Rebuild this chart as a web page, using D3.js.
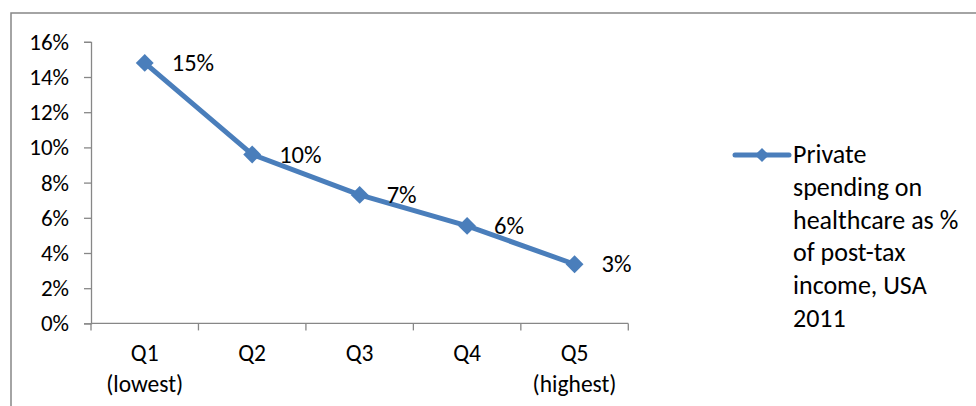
<!DOCTYPE html>
<html>
<head>
<meta charset="utf-8">
<script src="https://cdn.jsdelivr.net/npm/d3@7"></script>
<style>
  html, body { margin: 0; padding: 0; background: #fff; }
  svg { display: block; }
  text { font-family: Calibri, Carlito, "Open Sans", sans-serif; fill: #000; }
</style>
</head>
<body>
<svg id="chart" width="976" height="406"></svg>
<script>
// Income quintiles (two-line category labels)
const categories = ["Q1", "Q2", "Q3", "Q4", "Q5"];
const categorySubLabels = ["(lowest)", "", "", "", "(highest)"];
// Private healthcare spending as share of post-tax income
const values = [0.148, 0.096, 0.073, 0.0554, 0.0336];
const yTicks = [0, 0.02, 0.04, 0.06, 0.08, 0.10, 0.12, 0.14, 0.16];
const legendLines = ["Private", "spending on", "healthcare as %", "of post-tax", "income, USA", "2011"];

const blue = "#4a7ebb";
const axisGrey = "#878787";
const fontStack = 'Calibri, Carlito, "Open Sans", sans-serif';

const svg = d3.select("#chart");

// Chart-area frame (runs off the right and bottom edges)
svg.append("rect")
  .attr("x", 11).attr("y", 13)
  .attr("width", 1000).attr("height", 420)
  .attr("fill", "none")
  .attr("stroke", axisGrey)
  .attr("stroke-width", 1.5);

const x = d3.scaleBand().domain(categories).range([91, 628.3]);
const y = d3.scaleLinear().domain([0, 0.16]).range([323.4, 41.8]);
const pct = d3.format(".0%");

// Y axis
const yAxis = d3.axisLeft(y).tickValues(yTicks).tickFormat(pct).tickSize(7).tickPadding(15);
const gy = svg.append("g").attr("transform", `translate(${x.range()[0]},0)`).call(yAxis);
gy.select(".domain").attr("stroke", axisGrey).attr("stroke-width", 1.3);
gy.selectAll(".tick line").attr("stroke", axisGrey).attr("stroke-width", 1.3);
gy.selectAll(".tick text")
  .attr("font-size", 23)
  .attr("dy", "0.33em")
  .style("font-family", fontStack);

// X axis: ticks on category boundaries
const xAxisY = y(0);
const gx = svg.append("g");
gx.append("line")
  .attr("x1", x.range()[0]).attr("x2", x.range()[1])
  .attr("y1", xAxisY).attr("y2", xAxisY)
  .attr("stroke", axisGrey).attr("stroke-width", 1.3);
const boundaries = categories.map(c => x(c)).concat([x.range()[1]]);
gx.selectAll("line.bt").data(boundaries).join("line")
  .attr("class", "bt")
  .attr("x1", d => d).attr("x2", d => d)
  .attr("y1", xAxisY).attr("y2", xAxisY + 7)
  .attr("stroke", axisGrey).attr("stroke-width", 1.3);

const catText = gx.selectAll("text.cat").data(categories).join("text")
  .attr("class", "cat")
  .attr("text-anchor", "middle")
  .attr("font-size", 23.5)
  .attr("x", d => x(d) + x.bandwidth() / 2)
  .attr("y", 361);
catText.append("tspan").text(d => d);
catText.append("tspan")
  .attr("x", d => x(d) + x.bandwidth() / 2)
  .attr("dy", 31)
  .text((d, i) => categorySubLabels[i]);

// Series line
const pts = categories.map((c, i) => ({ c, v: values[i] }));
const line = d3.line().x(d => x(d.c) + x.bandwidth() / 2).y(d => y(d.v));
svg.append("path")
  .datum(pts)
  .attr("d", line)
  .attr("fill", "none")
  .attr("stroke", blue)
  .attr("stroke-width", 5)
  .attr("stroke-linejoin", "round");

// Diamond markers
const diamond = d3.symbol().type(d3.symbolSquare).size(160);
svg.selectAll("path.mk").data(pts).join("path")
  .attr("class", "mk")
  .attr("d", diamond)
  .attr("fill", blue)
  .attr("transform", d => `translate(${x(d.c) + x.bandwidth() / 2},${y(d.v)}) rotate(45)`);

// Data labels
svg.selectAll("text.lbl").data(pts).join("text")
  .attr("class", "lbl")
  .attr("font-size", 24.5)
  .attr("x", d => x(d.c) + x.bandwidth() / 2 + 27)
  .attr("y", d => y(d.v))
  .attr("dy", "0.33em")
  .text(d => pct(d.v));

// Legend
const lg = svg.append("g");
lg.append("line")
  .attr("x1", 735).attr("x2", 789)
  .attr("y1", 155).attr("y2", 155)
  .attr("stroke", blue).attr("stroke-width", 5)
  .attr("stroke-linecap", "round");
lg.append("path")
  .attr("d", d3.symbol().type(d3.symbolSquare).size(100)())
  .attr("fill", blue)
  .attr("transform", "translate(762,155) rotate(45)");
lg.selectAll("text").data(legendLines).join("text")
  .attr("x", 793)
  .attr("y", (d, i) => 163.3 + i * 32.7)
  .attr("font-size", 26)
  .text(d => d);
</script>
</body>
</html>
